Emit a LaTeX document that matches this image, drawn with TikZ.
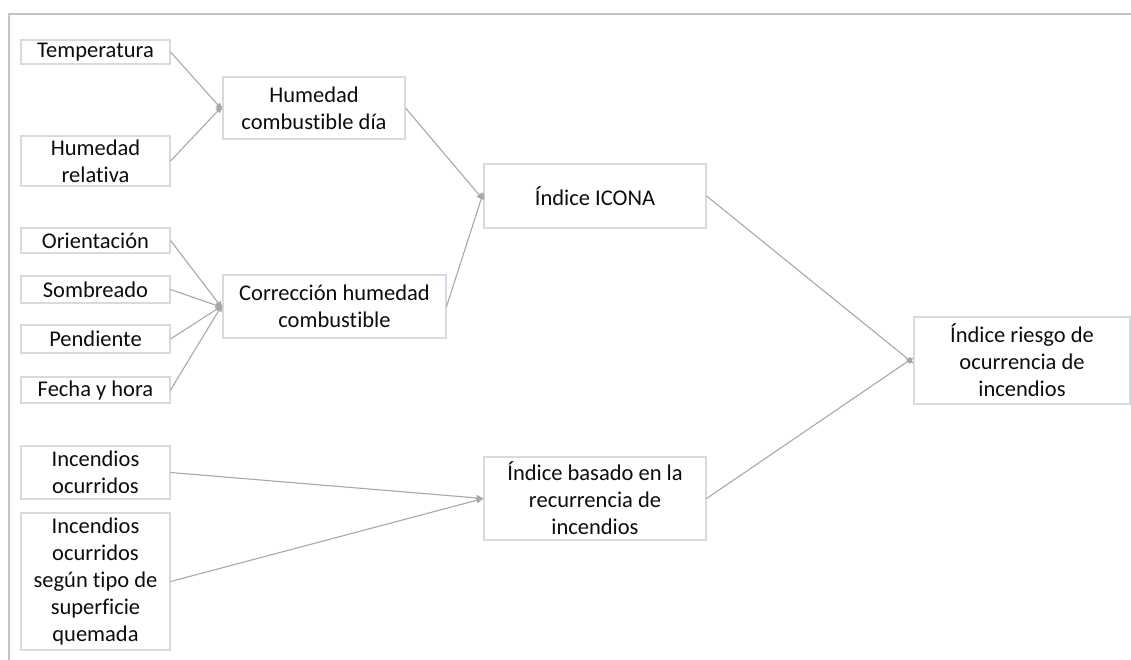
\documentclass[tikz,border=0pt]{standalone}
\usepackage{fontspec}
\setmainfont{Carlito}[Ligatures=NoCommon]
\usetikzlibrary{arrows.meta}
\definecolor{boxline}{HTML}{D3DCE3}
\definecolor{conn}{HTML}{A8A8A8}
\definecolor{framec}{HTML}{C4C4C4}
\definecolor{txt}{HTML}{0D0D0D}
\begin{document}
\begin{tikzpicture}[x=1pt,y=-1pt,
  box/.style={draw=boxline, line width=1.1pt, fill=white, align=center, inner sep=0pt,
    font=\fontsize{22.5}{27}\selectfont, text=txt},
  conn/.style={draw=conn, line width=1.1pt, -{Triangle[length=7pt,width=6pt]}, shorten >=0pt}
]
\useasboundingbox (0,0) rectangle (1131,660);
% frame
\draw[framec, line width=1.6pt] (1131,14) -- (9,14) -- (9,660);
% left column
\node[box, minimum width=149pt, minimum height=24pt] (temp) at (95.5,52) {Temperatura};
\node[box, minimum width=149pt, minimum height=50pt] (hrel) at (95.5,161) {Humedad\\relativa};
\node[box, minimum width=149pt, minimum height=25pt] (orient) at (95.5,240.5) {Orientación};
\node[box, minimum width=149pt, minimum height=27pt] (somb) at (95.5,289.5) {Sombreado};
\node[box, minimum width=149pt, minimum height=28pt] (pend) at (95.5,339) {Pendiente};
\node[box, minimum width=149pt, minimum height=26pt] (fecha) at (95.5,390) {Fecha y hora};
\node[box, minimum width=149pt, minimum height=53pt] (incoc) at (95.5,472.5) {Incendios\\ocurridos};
\node[box, minimum width=149pt, minimum height=137pt] (incsup) at (95.5,581.5) {Incendios\\ocurridos\\según tipo de\\superficie\\quemada};
% second column
\node[box, minimum width=182pt, minimum height=62pt] (hcd) at (314,108) {Humedad\\combustible día};
\node[box, minimum width=223pt, minimum height=63pt] (corr) at (334.5,306.5) {Corrección humedad\\combustible};
% third column
\node[box, minimum width=222pt, minimum height=64pt] (icona) at (595,196) {Índice ICONA};
\node[box, minimum width=222pt, minimum height=83pt] (basado) at (595,498.5) {Índice basado en la\\recurrencia de\\incendios};
% last
\node[box, minimum width=216pt, minimum height=87pt] (riesgo) at (1022,360.5) {Índice riesgo de\\ocurrencia de\\incendios};
% connectors
\draw[conn] (temp.east) -- ([yshift=-2pt]hcd.west);
\draw[conn] (hrel.east) -- ([yshift=2pt]hcd.west);
\draw[conn] (orient.east) -- ([yshift=-2pt]corr.west);
\draw[conn] (somb.east) -- ([yshift=-1pt]corr.west);
\draw[conn] (pend.east) -- ([yshift=1pt]corr.west);
\draw[conn] (fecha.east) -- ([yshift=2pt]corr.west);
\draw[conn] (hcd.east) -- ([yshift=-4pt]icona.west);
\draw[conn] (corr.east) -- ([yshift=4pt]icona.west);
\draw[conn] (incoc.east) -- (basado.west);
\draw[conn] (incsup.east) -- (basado.west);
\draw[conn] (icona.east) -- ([yshift=-3pt]riesgo.west);
\draw[conn] (basado.east) -- ([yshift=3pt]riesgo.west);
\end{tikzpicture}
\end{document}
